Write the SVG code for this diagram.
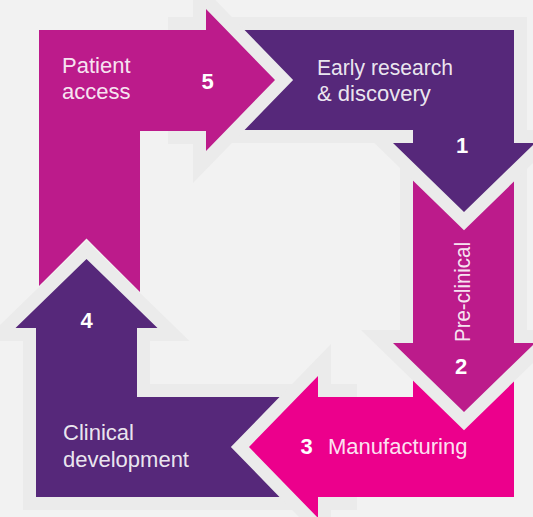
<svg xmlns="http://www.w3.org/2000/svg" width="533" height="517" viewBox="0 0 533 517">
<style>
.halo{fill:#ebebeb;stroke:#ebebeb;stroke-width:26;stroke-linejoin:miter;stroke-miterlimit:6}
.full{stroke:#ebebeb;stroke-width:26;stroke-linejoin:miter;stroke-miterlimit:6;paint-order:stroke}
.purple{fill:#56287a}
.magenta{fill:#bc1b8b}
.pink{fill:#ec008c}
.lbl{font-family:"Liberation Sans",Arial,sans-serif;font-size:22px;fill:#ffffff;fill-opacity:0.9}
.num{font-family:"Liberation Sans",Arial,sans-serif;font-size:22px;font-weight:bold;fill:#ffffff;text-anchor:middle}
</style>
<rect x="0" y="0" width="533" height="517" fill="#f2f2f2"/>
<g id="connectors"/>
<g id="node-4">
<path class="full purple" d="M36,497 L36,328 L15.5,328 L86.5,259 L157.5,328 L137,328 L137,397 L296,397 L296,497 Z"/>
<text class="num" x="86.5" y="328">4</text>
<text class="lbl" x="63" y="440">Clinical</text>
<text class="lbl" x="63" y="467">development</text>
</g>
<g id="node-3">
<path class="halo" d="M344,397 L318,397 L318,376 L249,447 L318,518 L318,497 L344,497 Z"/>
<path class="pink" d="M413,360 L514,360 L514,497 L318,497 L318,518 L249,447 L318,376 L318,397 L413,397 Z"/>
<text class="num" x="306.5" y="454">3</text>
<text class="lbl" x="328" y="454">Manufacturing</text>
</g>
<g id="node-2">
<path class="full magenta" d="M413,170 L514,170 L514,343 L535,343 L464,412 L393,343 L413,343 Z"/>
<text class="lbl" transform="translate(470,342) rotate(-90)" textLength="100" lengthAdjust="spacingAndGlyphs">Pre-clinical</text>
<text class="num" x="461" y="374">2</text>
</g>
<g id="node-1">
<path class="full purple" d="M181,30 L514,30 L514,143 L535,143 L464,212 L393,143 L413,143 L413,130 L181,130 Z"/>
<text class="lbl" x="317" y="75" textLength="136" lengthAdjust="spacingAndGlyphs">Early research</text>
<text class="lbl" x="317" y="101">&amp; discovery</text>
<text class="num" x="462" y="153">1</text>
</g>
<g id="node-5">
<path class="halo" d="M181,30 L206,30 L206,9 L275,80 L206,151 L206,131 L181,131 Z"/>
<path class="magenta" d="M39,286.1 L39,30 L206,30 L206,9 L275,80 L206,151 L206,131 L140,131 L140,292.1 L86.5,238.6 Z"/>
<text class="lbl" x="62" y="73">Patient</text>
<text class="lbl" x="62" y="99">access</text>
<text class="num" x="207.5" y="89">5</text>
</g>
</svg>
